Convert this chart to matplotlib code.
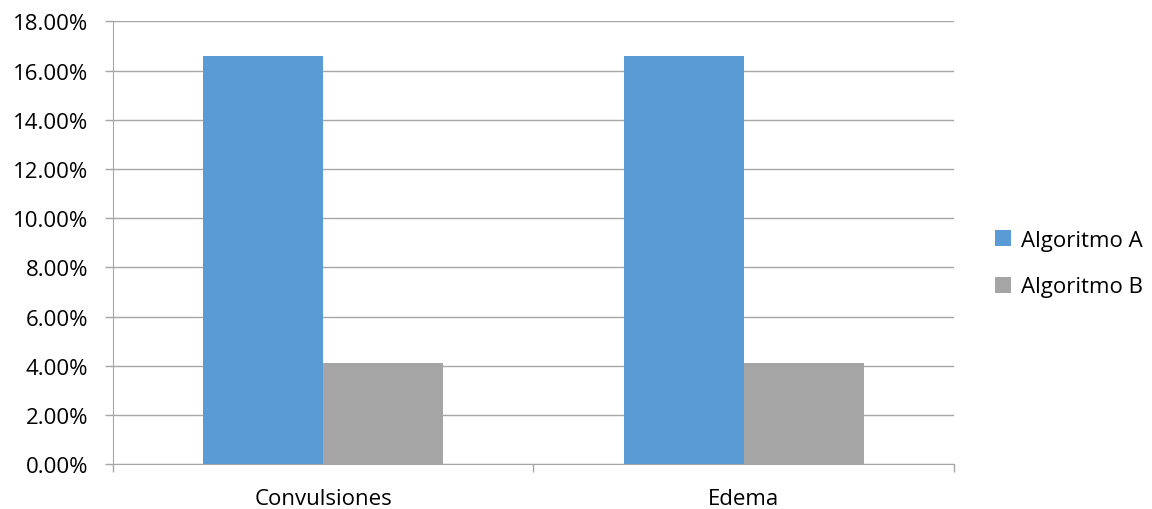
import matplotlib.pyplot as plt
from matplotlib.ticker import FuncFormatter
import numpy as np

categories = ["Convulsiones", "Edema"]
series_names = ["Algoritmo A", "Algoritmo B"]
algoritmo_a = [16.6, 16.6]
algoritmo_b = [4.1, 4.1]
colors = ["#5B9BD5", "#A5A5A5"]

plt.rcParams['font.family'] = ['Open Sans', 'DejaVu Sans']
fs = 16

fig = plt.figure(figsize=(11.52, 5.10), dpi=100)
ax = fig.add_axes([0.0981, 0.0882, 0.7299, 0.8677])

x = np.arange(len(categories))
w = 120 / 420
ax.bar(x - w / 2, algoritmo_a, w, color=colors[0], label=series_names[0], zorder=3)
ax.bar(x + w / 2, algoritmo_b, w, color=colors[1], label=series_names[1], zorder=3)

ax.set_xlim(-0.5, len(categories) - 0.5)
ax.set_ylim(0, 18)
ax.set_yticks(np.arange(0, 18.01, 2))
ax.yaxis.set_major_formatter(FuncFormatter(lambda v, p: "%.2f%%" % v))
ax.grid(axis='y', color='#A6A6A6', linewidth=1, zorder=0)

# category boundary ticks, labels in the middle
ax.set_xticks(np.arange(-0.5, len(categories), 1.0))
ax.set_xticklabels([])
ax.set_xticks(x, minor=True)
ax.set_xticklabels(categories, minor=True)
ax.tick_params(axis='x', which='major', length=6, color='#A6A6A6', width=1)
ax.tick_params(axis='x', which='minor', length=0, pad=17, labelsize=fs)
ax.tick_params(axis='y', length=6, color='#A6A6A6', width=1, labelsize=fs, pad=12)

for s in ['top', 'right']:
    ax.spines[s].set_visible(False)
for s in ['left', 'bottom']:
    ax.spines[s].set_color('#A6A6A6')

fig.legend(*ax.get_legend_handles_labels(), loc='center left',
           bbox_to_anchor=(995 / 1152, 0.481), frameon=False,
           fontsize=fs, handlelength=0.72, handleheight=0.72, labelspacing=1.15,
           handletextpad=0.45, borderpad=0, borderaxespad=0)

fig.savefig("out.png", dpi=100)
